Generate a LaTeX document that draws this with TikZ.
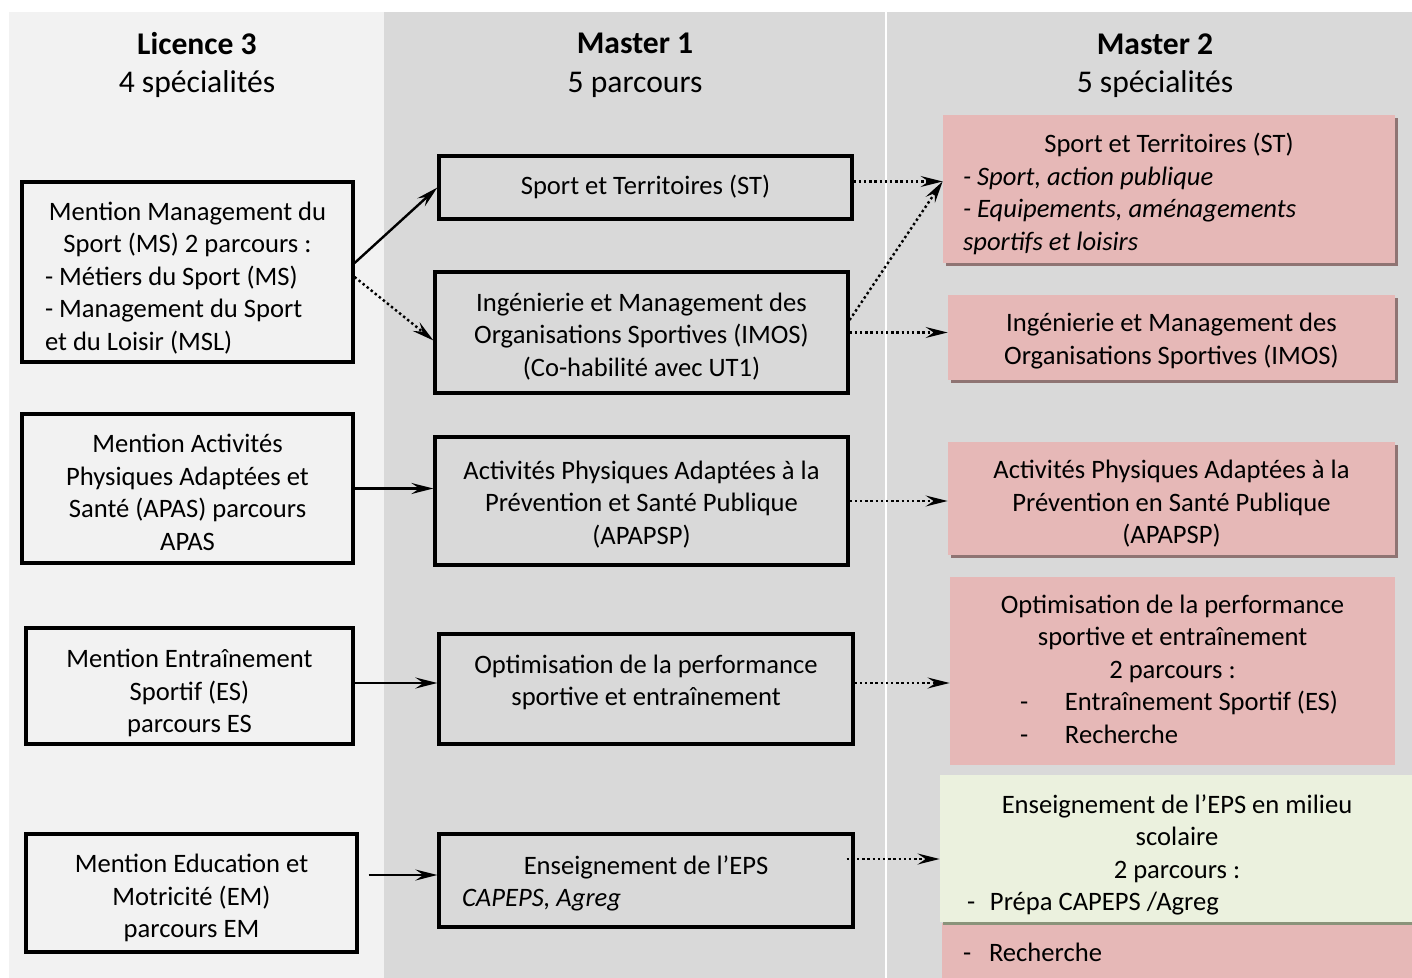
\documentclass[tikz,border=0pt]{standalone}
\usepackage{fontspec}
\setmainfont{Carlito}
\usetikzlibrary{arrows.meta,shadows}
\setlength{\parindent}{0pt}
\definecolor{colA}{HTML}{F2F2F2}
\definecolor{colB}{HTML}{D9D9D9}
\definecolor{pinkf}{HTML}{E6B8B7}
\definecolor{pinks}{HTML}{8F7473}
\definecolor{greenf}{HTML}{EBF1DE}
\definecolor{greens}{HTML}{8A937A}
\newcommand{\lineC}[2]{\makebox[#1][c]{#2}}
\tikzset{
  body/.style={font=\fontsize{13.3}{16.25}\selectfont},
  head/.style={font=\fontsize{15.8}{19.3}\selectfont, align=center, inner sep=0pt},
  ltxt/.style={body, inner sep=0pt, align=left},
  ctxt/.style={body, inner sep=0pt, align=center},
  sz/.style n args={2}{minimum width=#1, minimum height=#2},
  lbox/.style={draw=black, line width=1.6pt, fill=colA, inner sep=0pt},
  mbox/.style={lbox, fill=colB},
  pbox/.style={fill=pinkf, inner sep=0pt, general shadow={fill=pinks, shadow xshift=1.5pt, shadow yshift=-1.5pt}},
  obox/.style={fill=pinkf, inner sep=0pt},
  gbox/.style={fill=greenf, inner sep=0pt, general shadow={fill=greens, shadow xshift=1.5pt, shadow yshift=-1.5pt}},
  tip/.style={-{Stealth[length=11pt,width=5.5pt,inset=4pt]}},
  solidarr/.style={tip, line width=1.2pt},
  dotarr/.style={tip, line width=1.2pt, dash pattern=on 1.2pt off 1.4pt},
}
\begin{document}
\begin{tikzpicture}[x=0.5pt,y=-0.5pt]
\useasboundingbox (0,0) rectangle (1412,978);
\fill[white] (0,0) rectangle (1412,978);
\fill[colA] (9,12) rectangle (384,978);
\fill[colB] (384,12) rectangle (885,978);
\fill[colB] (887,12) rectangle (1412,978);

% headers
\node[head] (h1) at (197,65) {\textbf{Licence 3}\\4 spécialités};
\node[head] (h2) at (635,65.5) {\textbf{Master 1}\\5 parcours};
\node[head] (h3) at (1155,65.5) {\textbf{Master 2}\\5 spécialités};

% Licence 3 boxes
\node[lbox, sz={165.5pt}{90pt}] (ms) at (187.5,272) {};
\node[ltxt] (mst) at (187.5,278) {\lineC{165.5pt}{Mention Management du}\\\lineC{165.5pt}{Sport (MS) 2 parcours :}\\\hspace*{11.5pt}- Métiers du Sport (MS)\\\hspace*{11.5pt}- Management du Sport\\\hspace*{11.5pt}et du Loisir (MSL)};
\node[lbox, sz={165.5pt}{74.5pt}] (apas) at (187.5,488.5) {};
\node[ctxt] (apast) at (187.5,492.5) {Mention Activités\\Physiques Adaptées et\\Santé (APAS) parcours\\APAS};
\node[lbox, sz={163.5pt}{58pt}] (es) at (189.5,686) {};
\node[ctxt] (est) at (189.5,693) {Mention Entraînement\\Sportif (ES)\\parcours ES};
\node[lbox, sz={165.5pt}{59pt}] (em) at (191.5,893) {};
\node[ctxt] (emt) at (191.5,898) {Mention Education et\\Motricité (EM)\\parcours EM};

% Master 1 boxes
\node[mbox, sz={206.5pt}{31.5pt}] (st1) at (645.5,187.5) {};
\node[ctxt] (st1t) at (645.5,187) {Sport et Territoires (ST)};
\node[mbox, sz={206.5pt}{60.5pt}] (imos1) at (641.5,332.5) {};
\node[ctxt] (imos1t) at (641.5,336.5) {Ingénierie et Management des\\Organisations Sportives (IMOS)\\(Co-habilité avec UT1)};
\node[mbox, sz={206.5pt}{64pt}] (apa1) at (641.5,501) {};
\node[ctxt] (apa1t) at (641.5,504.5) {Activités Physiques Adaptées à la\\Prévention et Santé Publique\\(APAPSP)};
\node[mbox, sz={207pt}{55pt}] (opt1) at (646,689) {};
\node[ctxt] (opt1t) at (646,682.5) {Optimisation de la performance\\sportive et entraînement};
\node[mbox, sz={207pt}{46.5pt}] (eps1) at (646,880.5) {};
\node[ltxt] (eps1t) at (646,883.5) {\lineC{207pt}{Enseignement de l’EPS}\\\hspace*{11.5pt}\textit{CAPEPS, Agreg}};

% Master 2 boxes
\node[pbox, sz={226pt}{74pt}] (st2) at (1169,189) {};
\node[ltxt] (st2t) at (1169,194) {\lineC{226pt}{Sport et Territoires (ST)}\\\hspace*{10pt}\textit{- Sport, action publique}\\\hspace*{10pt}\textit{- Equipements, aménagements}\\\hspace*{10pt}\textit{sportifs et loisirs}};
\node[pbox, sz={223.5pt}{42.5pt}] (imos2) at (1171.5,337.5) {};
\node[ctxt] (imos2t) at (1171.5,341) {Ingénierie et Management des\\Organisations Sportives (IMOS)};
\node[pbox, sz={223.5pt}{56.5pt}] (apa2) at (1171.5,498.5) {};
\node[ctxt] (apa2t) at (1171.5,504) {Activités Physiques Adaptées à la\\Prévention en Santé Publique\\(APAPSP)};
\node[obox, sz={222.5pt}{94pt}] (opt2) at (1172.5,671) {};
\node[ltxt] (opt2t) at (1172.5,669) {\lineC{222.5pt}{Optimisation de la performance}\\\lineC{222.5pt}{sportive et entraînement}\\\lineC{222.5pt}{2 parcours :}\\\hspace*{35pt}\makebox[22.5pt][l]{-}Entraînement Sportif (ES)\\\hspace*{35pt}\makebox[22.5pt][l]{-}Recherche};
\node[obox, sz={236pt}{29.5pt}] (rec) at (1178,952.5) {};
\node[ltxt] (rect) at (1178,952.5) {\makebox[236pt][l]{\hspace*{10.5pt}\makebox[13pt][l]{-}Recherche}};
\node[gbox, sz={237pt}{73.5pt}] (eps2) at (1177,848.5) {};
\node[ltxt] (eps2t) at (1177,855) {\lineC{237pt}{Enseignement de l’EPS en milieu}\\\lineC{237pt}{scolaire}\\\lineC{237pt}{2 parcours :}\\\hspace*{13.5pt}\makebox[11.5pt][l]{-}Prépa CAPEPS /Agreg};

% arrows L3 -> M1
\draw[solidarr] ([yshift=4.5pt]ms.east) -- (st1.west);
\draw[dotarr] ([yshift=-2.5pt]ms.east) -- ([yshift=-4pt]imos1.west);
\draw[solidarr] (apas.east) -- (apas.east -| apa1.west);
\draw[solidarr] ([yshift=1.5pt]es.east) -- ([yshift=1.5pt]es.east -| opt1.west);
\draw[solidarr] ([xshift=5pt,yshift=9pt]em.east) -- ([yshift=9pt]em.east -| eps1.west);

% arrows M1 -> M2
\coordinate (t1) at ([yshift=3pt]st1.east -| st2.west);
\draw[dotarr] ([yshift=3pt]st1.east) -- (t1);
\draw[dotarr] ([yshift=6.25pt]imos1.east) -- (t1);
\draw[dotarr] (imos1.east) -- (imos1.east -| imos2.west);
\draw[dotarr] (apa1.east) -- (apa1.east -| apa2.west);
\draw[dotarr] ([yshift=3pt]opt1.east) -- ([yshift=3pt]opt1.east -| opt2.west);
\draw[dotarr] ([xshift=-4pt,yshift=10.75pt]eps1.east) -- ([yshift=10.75pt]eps1.east -| eps2.west);
\end{tikzpicture}
\end{document}
